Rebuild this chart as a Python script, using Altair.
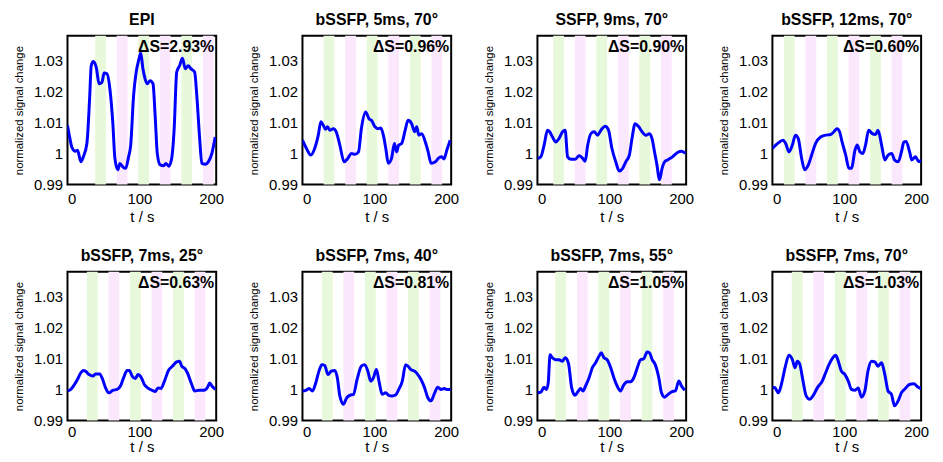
import altair as alt
import pandas as pd

FONT = "Liberation Sans, Arial, sans-serif"
GREEN = "#e8f8da"
PINK = "#fce8fc"

TITLES = ["EPI", "bSSFP, 5ms, 70°", "SSFP, 9ms, 70°", "bSSFP, 12ms, 70°",
          "bSSFP, 7ms, 25°", "bSSFP, 7ms, 40°", "bSSFP, 7ms, 55°", "bSSFP, 7ms, 70°"]
DELTAS = ["ΔS=2.93%", "ΔS=0.96%", "ΔS=0.90%", "ΔS=0.60%",
          "ΔS=0.63%", "ΔS=0.81%", "ΔS=1.05%", "ΔS=1.03%"]

# ---- time series (t in s, normalized signal) ----
T1 = [0, 3, 6, 11, 14, 18.6, 22, 27, 31, 33, 36, 40, 44, 48, 51, 55, 59, 63, 66, 70,
      73, 77, 81, 85, 88, 92, 95.6, 99, 102, 105, 108, 111, 115, 119, 122, 125, 129, 134, 137, 141,
      145, 148.5, 152, 156, 160, 164, 168, 172, 177, 180, 184, 187, 192, 196, 201, 205.6]
S1 = [1.0091, 1.0053, 1.0021, 1.0007, 1.0010, 0.9973, 0.9989, 1.0032, 1.0187, 1.0283,
      1.0297, 1.0278, 1.0225, 1.0230, 1.0260, 1.0257, 1.0209, 1.0102, 0.9984, 0.9947,
      0.9968, 0.9957, 0.9952, 0.9989, 1.0027, 1.0187, 1.0262, 1.0300, 1.0324, 1.0273,
      1.0241, 1.0225, 1.0235, 1.0225, 1.0123, 1.0000, 0.9963, 0.9960, 0.9968, 0.9959,
      0.9984, 1.0080, 1.0262, 1.0283, 1.0307, 1.0273, 1.0283, 1.0273, 1.0262, 1.0187,
      1.0048, 0.9968, 0.9965, 0.9973, 1.0000, 1.0053]

T2 = [0, 5.6, 11.6, 17, 22, 25.6, 29, 32, 35, 38, 43, 47, 52, 58, 63, 68, 73, 78, 82, 88,
      92.6, 96, 101, 105, 109, 112.6, 116, 119.5, 124, 128, 131, 134, 138, 143, 147,
      152, 156, 159, 162, 166, 171, 175, 179, 185, 189, 194, 197, 201, 205.6]
S2 = [1.0043, 1.0016, 0.9995, 1.0016, 1.0059, 1.0102, 1.0091, 1.0078, 1.0086, 1.0075,
      1.0080, 1.0070, 1.0027, 0.9973, 0.9984, 1.0000, 0.9997, 1.0005, 1.0080, 1.0134,
      1.0112, 1.0107, 1.0086, 1.0080, 1.0082, 1.0059, 1.0016, 0.9968, 0.9984, 1.0032,
      1.0005, 1.0027, 1.0032, 1.0075, 1.0107, 1.0096, 1.0070, 1.0086, 1.0059, 1.0064,
      1.0037, 1.0005, 0.9968, 0.9973, 0.9984, 0.9989, 0.9982, 1.0011, 1.0043]

T3 = [0, 4.6, 9.3, 14, 17, 21, 25.6, 30, 35, 38.6, 42, 46.5, 52.6, 58, 63,
      66.5, 70, 74.4, 79, 83.7, 88.4, 94.4, 99, 103.7, 109, 114, 118.6, 123, 128, 131.6,
      136, 141, 145.6, 151, 156, 159.5, 163, 166, 170, 173.5, 177, 181, 188, 195, 201, 206]
S3 = [0.9984, 0.9989, 1.0027, 1.0075, 1.0070, 1.0053, 1.0037, 1.0048, 1.0070, 1.0075,
      0.9989, 0.9981, 0.9981, 0.9993, 0.9984, 0.9975, 1.0027, 1.0064, 1.0070, 1.0059,
      1.0075, 1.0088, 1.0075, 1.0016, 0.9973, 0.9943, 0.9952, 0.9973, 0.9995, 1.0048,
      1.0096, 1.0086, 1.0070, 1.0059, 1.0064, 1.0048, 1.0005, 0.9968, 0.9915, 0.9952,
      0.9973, 0.9979, 0.9989, 1.0003, 1.0007, 1.0000]

T4 = [0, 4.6, 10, 14.8, 18.5, 23, 27.8, 32, 36, 40.7, 45, 50, 54.6, 60, 67,
      74, 81, 85.6, 90, 93.5, 97, 102, 106.5, 110, 115, 118, 122, 126, 129.6, 134,
      139, 143.5, 147, 152, 156.5, 161, 166, 170, 175, 179.6, 183, 186, 191, 194, 199, 204, 207]
S4 = [1.0016, 1.0027, 1.0037, 1.0043, 1.0032, 1.0005, 1.0027, 1.0059, 1.0048, 0.9984,
      0.9947, 0.9963, 0.9995, 1.0032, 1.0053, 1.0059, 1.0061, 1.0070, 1.0080, 1.0070,
      1.0037, 0.9995, 0.9952, 0.9952, 1.0011, 1.0027, 1.0005, 1.0000, 1.0027, 1.0075,
      1.0064, 1.0061, 1.0075, 1.0027, 0.9979, 0.9995, 1.0000, 0.9979, 0.9973, 1.0005,
      1.0037, 1.0039, 1.0005, 0.9979, 0.9989, 0.9973, 0.9979]

T5 = [0, 4.6, 9.2, 13.8, 18.4, 21.7, 25, 30, 35.5, 39, 44.7, 49, 53, 57.6, 63,
      69, 73.7, 78, 83, 86, 90, 94.5, 98, 103, 107, 113, 118, 122, 126, 130,
      135, 140.5, 146, 152, 156, 159, 163.6, 167, 173, 177, 183, 190, 195, 198, 201, 206]
S5 = [0.9995, 1.0000, 1.0014, 1.0032, 1.0053, 1.0061, 1.0059, 1.0048, 1.0043, 1.0050,
      1.0050, 1.0032, 1.0005, 0.9989, 0.9997, 1.0000, 1.0011, 1.0037, 1.0061, 1.0061,
      1.0043, 1.0035, 1.0048, 1.0037, 1.0016, 1.0003, 0.9997, 0.9993, 1.0005, 1.0003,
      1.0027, 1.0061, 1.0075, 1.0089, 1.0091, 1.0075, 1.0067, 1.0053, 1.0016, 0.9995,
      0.9997, 0.9997, 1.0007, 1.0021, 1.0011, 1.0000]

T6 = [0, 4.6, 9.3, 13.9, 18.5, 23, 27, 31, 35.6, 40, 45, 48.6, 52, 57, 61.6,
      66, 71, 76, 82, 86.6, 91, 95, 98.6, 103, 106.5, 111, 115.7, 120, 125, 129.6,
      134, 139, 143.5, 146.8, 151, 156, 160.6, 165, 170, 174.5, 179, 184, 188.4, 193, 197.7, 201, 206]
S6 = [0.9995, 0.9997, 1.0003, 0.9995, 1.0021, 1.0059, 1.0080, 1.0077, 1.0048, 1.0059,
      1.0061, 1.0037, 0.9979, 0.9952, 0.9973, 0.9981, 0.9984, 1.0032, 1.0075, 1.0080,
      1.0059, 1.0027, 1.0037, 1.0064, 1.0027, 0.9984, 0.9989, 0.9981, 0.9979, 0.9982,
      1.0000, 1.0027, 1.0080, 1.0075, 1.0064, 1.0059, 1.0048, 1.0032, 1.0005, 0.9973,
      0.9963, 0.9989, 1.0007, 1.0000, 1.0003, 1.0000, 1.0000]

T7 = [0, 4.6, 9.3, 12.5, 15, 17.6, 20.8, 25.5, 30, 34.7, 38.4, 43, 47.7, 52.3, 57,
      60, 63.4, 67, 71.8, 76.4, 81, 85.6, 89, 92.6, 97, 102, 106.5, 111, 115.7, 120,
      125, 129.6, 134, 139, 143.5, 148, 152.8, 156, 159.7, 164, 169, 172.7, 177, 182, 187.5,
      192, 196.8, 200.5, 205]
S7 = [0.9989, 0.9991, 1.0007, 1.0000, 1.0021, 1.0112, 1.0102, 1.0096, 1.0096, 1.0091,
      1.0102, 1.0086, 1.0005, 0.9981, 0.9995, 1.0003, 0.9995, 1.0011, 1.0037, 1.0070,
      1.0086, 1.0107, 1.0118, 1.0102, 1.0096, 1.0070, 1.0037, 1.0011, 0.9995, 1.0014,
      1.0025, 1.0025, 1.0037, 1.0070, 1.0096, 1.0099, 1.0121, 1.0118, 1.0096, 1.0080,
      1.0037, 0.9989, 0.9975, 0.9984, 0.9993, 0.9995, 1.0027, 1.0011, 0.9997]

T8 = [0, 3.7, 8.3, 13, 17.6, 23, 27.8, 31.5, 34.7, 38, 42.6, 47, 52, 56.5, 62.5,
      69.4, 74, 78.7, 84, 88, 91.7, 96, 101, 105.6, 110, 115, 119.4, 124, 128.7, 133,
      138, 142.6, 147, 152, 156.5, 161, 165.7, 170, 175, 179.6, 185, 190.7, 196.8, 203, 207]
S8 = [1.0007, 1.0005, 0.9989, 1.0021, 1.0070, 1.0110, 1.0096, 1.0070, 1.0091, 1.0082,
      1.0027, 0.9979, 0.9968, 0.9979, 1.0005, 1.0027, 1.0053, 1.0080, 1.0102, 1.0110,
      1.0091, 1.0059, 1.0048, 1.0027, 1.0000, 0.9997, 1.0005, 0.9975, 0.9995, 1.0059,
      1.0091, 1.0089, 1.0075, 1.0086, 1.0048, 0.9995, 0.9984, 0.9947, 0.9963, 0.9989,
      1.0003, 1.0016, 1.0018, 1.0007, 1.0003]

TIMES = [T1, T2, T3, T4, T5, T6, T7, T8]
SIGNALS = [S1, S2, S3, S4, S5, S6, S7, S8]

# ---- stimulation blocks (start, end in s) ----
GREEN_BLOCKS = [
    [(38.5, 53.5), (98.5, 113.5), (158.5, 173.5)],
    [(29.5, 44.5), (89.5, 104.5), (149.5, 164.5)],
    [(22, 37), (82, 97), (142, 157)],
    [(16, 31), (76, 91), (136, 151)],
    [(27, 42), (87, 102), (147, 162)],
    [(27, 42), (87, 102), (147, 162)],
    [(25, 40), (85, 100), (145, 160)],
    [(27, 42), (87, 102), (147, 162)],
]
PINK_BLOCKS = [
    [(68.5, 83.5), (128.5, 143.5), (188.5, 203.5)],
    [(59.5, 74.5), (119.5, 134.5), (179.5, 194.5)],
    [(52, 67), (112, 127), (172, 187)],
    [(46, 61), (106, 121), (166, 181)],
    [(57, 72), (117, 132), (177, 192)],
    [(57, 72), (117, 132), (177, 192)],
    [(55, 70), (115, 130), (175, 190)],
    [(57, 72), (117, 132), (177, 192)],
]

X_DOMAIN = [0, 207]
Y_DOMAIN = [0.99, 1.038]
Y_TICKS = [0.99, 1.0, 1.01, 1.02, 1.03]
X_TICKS = [0, 100, 200]

W = 150
H = 150

panels = []
for i in range(8):
    n = min(len(TIMES[i]), len(SIGNALS[i]))
    line_df = pd.DataFrame({"t": TIMES[i][:n], "s": SIGNALS[i][:n]})
    rows = [{"start": a, "end": b, "kind": "green"} for a, b in GREEN_BLOCKS[i]]
    rows += [{"start": a, "end": b, "kind": "pink"} for a, b in PINK_BLOCKS[i]]
    band_df = pd.DataFrame(rows)

    top_row = i < 4
    xs = alt.Scale(domain=X_DOMAIN, nice=False, zero=False)
    ys = alt.Scale(domain=Y_DOMAIN, nice=False, zero=False)
    xaxis = alt.Axis(values=X_TICKS, title="t / s",
                     labelPadding=7 if top_row else 4,
                     titlePadding=3 if top_row else 0)
    yaxis = alt.Axis(values=Y_TICKS, title="normalized signal change",
                     labelExpr="format(datum.value, '~g')")

    bands = alt.Chart(band_df).mark_rect().encode(
        x=alt.X("start:Q", scale=xs, axis=xaxis, title="t / s"),
        x2="end:Q",
        y=alt.value(0),
        y2=alt.value(H),
        color=alt.Color("kind:N", scale=alt.Scale(domain=["green", "pink"], range=[GREEN, PINK]),
                        legend=None),
    )
    line = alt.Chart(line_df).mark_line(color="#0000ff", strokeWidth=3,
                                        interpolate="monotone", clip=True).encode(
        x=alt.X("t:Q", scale=xs, axis=xaxis, title="t / s"),
        y=alt.Y("s:Q", scale=ys, axis=yaxis, title="normalized signal change"),
    )
    label = alt.Chart(pd.DataFrame({"label": [DELTAS[i]]})).mark_text(
        align="right", baseline="alphabetic", fontSize=16, fontWeight="bold",
        font=FONT, color="black").encode(
        x=alt.value(W - 2), y=alt.value(16), text="label:N")

    panel = alt.layer(bands, line, label).properties(
        width=W, height=H,
        title=alt.TitleParams(TITLES[i], fontSize=16, font=FONT, fontWeight="bold",
                              color="black", offset=8, anchor="middle"),
    )
    panels.append(panel)

chart = alt.concat(*panels, columns=4, spacing={"row": 88, "column": 87},
                   bounds="flush").properties(
    padding={"left": 4, "top": 1, "right": 5, "bottom": 5},
    background="white",
).configure_view(
    stroke="black", strokeWidth=2,
).configure_axis(
    grid=False, domain=False, ticks=False, tickSize=0,
    labelFont=FONT, labelFontSize=15, labelColor="black",
    titleFont=FONT, titleColor="black", titleFontWeight="normal",
).configure_axisX(
    titleFontSize=15,
).configure_axisY(
    labelPadding=5, titleFontSize=11.5, titlePadding=9,
)

chart.save("out.html", embed_options={"renderer": "svg", "actions": False})
